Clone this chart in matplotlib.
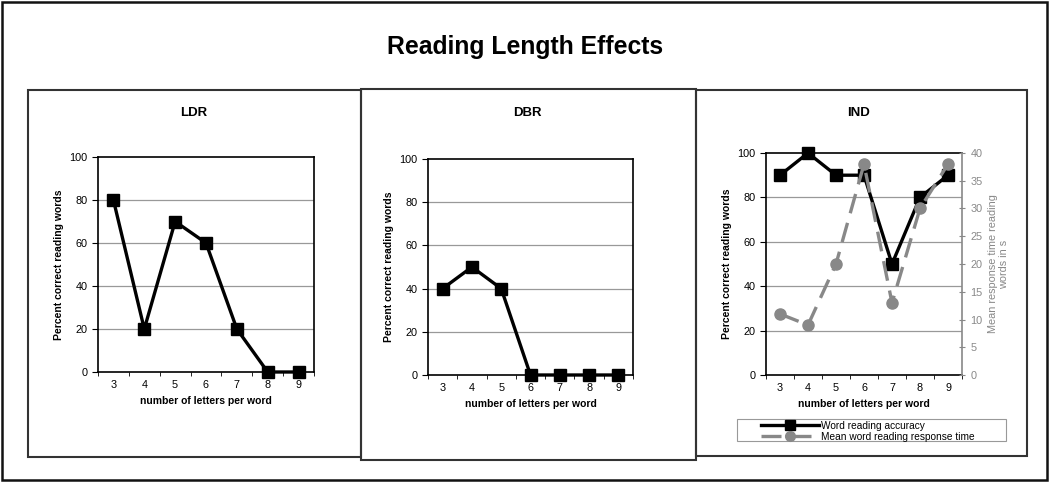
import matplotlib.pyplot as plt
from matplotlib.patches import Rectangle
from matplotlib.lines import Line2D

plt.rcParams['font.family'] = ['Liberation Sans', 'DejaVu Sans']

letters = [3, 4, 5, 6, 7, 8, 9]
ldr = [80, 20, 70, 60, 20, 0, 0]
dbr = [40, 50, 40, 0, 0, 0, 0]
ind_acc = [90, 100, 90, 90, 50, 80, 90]
ind_rt = [11, 9, 20, 38, 13, 30, 38]

W, H = 1050, 482
fig = plt.figure(figsize=(10.5, 4.82), dpi=100)


def box(x0, y0, x1, y1, lw=1.5, ec='#222222'):
    # pixel coords, y from top
    r = Rectangle((x0 / W, 1 - y1 / H), (x1 - x0) / W, (y1 - y0) / H,
                  transform=fig.transFigure, fill=False, lw=lw, ec=ec)
    fig.patches.append(r)


def axes_px(x0, y0, x1, y1):
    return fig.add_axes([x0 / W, 1 - y1 / H, (x1 - x0) / W, (y1 - y0) / H])


box(1.5, 1.5, 1047, 480, lw=1.8, ec='#111111')
box(28, 90, 361, 457, ec='#333333')
box(361, 89, 696, 460, ec='#333333')
box(696, 90, 1027, 456, ec='#333333')
box(737, 419, 1006, 441, lw=0.8, ec='#999999')

fig.text(525 / W, 1 - 47 / H, 'Reading Length Effects', ha='center', va='center',
         fontsize=17.8, fontweight='bold')


def style(ax, title, tx):
    ax.set_xlim(2.5, 9.5)
    ax.set_ylim(0, 100)
    ax.set_yticks([0, 20, 40, 60, 80, 100])
    ax.set_xticks(letters)
    ax.set_xticks([2.5 + i for i in range(8)], minor=True)
    ax.tick_params(axis='x', which='major', length=0, labelsize=7.8, pad=6)
    ax.tick_params(axis='x', which='minor', length=3, direction='out')
    ax.tick_params(axis='y', length=4, direction='out', labelsize=7.8)
    for y in [20, 40, 60, 80]:
        ax.axhline(y, color='#999999', lw=0.9, zorder=0)
    for s in ax.spines.values():
        s.set_linewidth(1.2)
    ax.set_xlabel('number of letters per word', fontsize=7.5, fontweight='bold', labelpad=4)
    ax.set_ylabel('Percent correct reading words', fontsize=7.5, fontweight='bold', labelpad=4)
    fig.text(tx / W, 1 - 113 / H, title, ha='center', va='center', fontsize=9.5, fontweight='bold')


ax1 = axes_px(98, 157, 314, 372)
ax1.plot(letters, ldr, color='black', lw=2.4, marker='s', ms=9, clip_on=False, zorder=3)
style(ax1, 'LDR', 194)

ax2 = axes_px(428, 159, 633, 375)
ax2.plot(letters, dbr, color='black', lw=2.4, marker='s', ms=9, clip_on=False, zorder=3)
style(ax2, 'DBR', 527)

ax3 = axes_px(766, 153, 962, 375)
ax3.plot(letters, ind_acc, color='black', lw=2.4, marker='s', ms=9, clip_on=False, zorder=3)
style(ax3, 'IND', 859)
ax3.spines['right'].set_visible(False)

ax4 = ax3.twinx()
ax4.plot(letters, ind_rt, color='#888888', lw=2.4, ls=(0, (6, 3)), marker='o', ms=8,
         clip_on=False, zorder=2)
ax4.set_ylim(0, 40)
ax4.set_yticks(range(0, 45, 5))
ax4.tick_params(axis='y', direction='inout', length=5, colors='#888888', labelsize=7.8)
ax4.spines['right'].set_color('#888888')
ax4.spines['right'].set_linewidth(1.2)
for s in ['left', 'top', 'bottom']:
    ax4.spines[s].set_visible(False)
ax4.set_ylabel('Mean response time reading\nwords in s', fontsize=7.8,
               color='#888888', labelpad=4, linespacing=1.1)

handles = [Line2D([], [], color='black', lw=2.4, marker='s', ms=7),
           Line2D([], [], color='#888888', lw=2.4, ls=(0, (6, 3)), marker='o', ms=7)]
leg = fig.legend(handles, ['Word reading accuracy', 'Mean word reading response time'],
                 loc='upper left', bbox_to_anchor=(760 / W, 1 - 420 / H), fontsize=7.3,
                 handlelength=5.7, handletextpad=0.2, borderpad=0.1, borderaxespad=0,
                 labelspacing=0.1, frameon=False)

fig.savefig('out.png', dpi=100)
